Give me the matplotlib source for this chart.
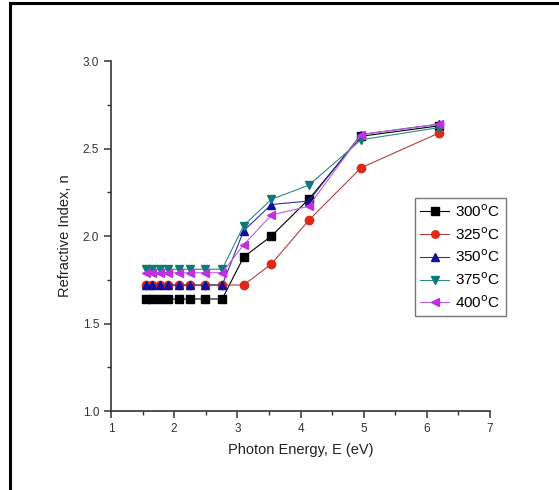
import matplotlib.pyplot as plt
from matplotlib.lines import Line2D
from matplotlib.ticker import MultipleLocator

plt.rcParams['font.family'] = ['Liberation Sans', 'DejaVu Sans']

energy = [1.55, 1.65, 1.77, 1.91, 2.07, 2.25, 2.48, 2.76, 3.10, 3.54, 4.13, 4.96, 6.20]

n_300 = [1.64, 1.64, 1.64, 1.64, 1.64, 1.64, 1.64, 1.64, 1.88, 2.00, 2.21, 2.57, 2.63]
n_325 = [1.72, 1.72, 1.72, 1.72, 1.72, 1.72, 1.72, 1.72, 1.72, 1.84, 2.09, 2.39, 2.59]
n_350 = [1.72, 1.72, 1.72, 1.72, 1.72, 1.72, 1.72, 1.72, 2.03, 2.18, 2.20, 2.58, 2.64]
n_375 = [1.81, 1.81, 1.81, 1.81, 1.81, 1.81, 1.81, 1.81, 2.06, 2.21, 2.29, 2.55, 2.62]
n_400 = [1.79, 1.79, 1.79, 1.79, 1.79, 1.79, 1.79, 1.79, 1.95, 2.12, 2.17, 2.58, 2.64]

labels = ['300$^{\\mathrm{o}}$C', '325$^{\\mathrm{o}}$C', '350$^{\\mathrm{o}}$C',
          '375$^{\\mathrm{o}}$C', '400$^{\\mathrm{o}}$C']

fig = plt.figure(figsize=(5.59, 4.9), dpi=100)
ax = fig.add_axes([0.1986, 0.1612, 0.678, 0.7143])

series = [
    (n_300, 's', '#000000', '#000000'),
    (n_325, 'o', '#e02818', '#b04040'),
    (n_350, '^', '#1010a0', '#3030a0'),
    (n_375, 'v', '#107878', '#308888'),
    (n_400, '<', '#c030e0', '#c060e0'),
]
for (vals, mk, mc, lc), lab in zip(series, labels):
    ax.plot(energy, vals, color=lc, lw=0.8, marker=mk, markersize=6,
            markerfacecolor=mc, markeredgecolor=mc, label=lab)

ax.set_xlim(1, 7)
ax.set_ylim(1.0, 3.0)
ax.xaxis.set_major_locator(MultipleLocator(1))
ax.xaxis.set_minor_locator(MultipleLocator(0.5))
ax.yaxis.set_major_locator(MultipleLocator(0.5))
ax.yaxis.set_minor_locator(MultipleLocator(0.25))
ax.yaxis.set_major_formatter(plt.FormatStrFormatter('%.1f'))
ax.spines['top'].set_visible(False)
ax.spines['right'].set_visible(False)
for s in ('left', 'bottom'):
    ax.spines[s].set_color('#333333')
    ax.spines[s].set_linewidth(1.2)
ax.tick_params(which='major', length=5, width=1.1, labelsize=8.5, color='#333333', labelcolor='#333333')
ax.tick_params(which='minor', length=3, width=1.0, color='#333333')

ax.set_xlabel('Photon Energy, E (eV)', fontsize=10.5, color='#222222', labelpad=6)
ax.set_ylabel('Refractive Index, n', fontsize=10.5, color='#222222', labelpad=8)

leg = ax.legend(loc='upper left', bbox_to_anchor=(0.802, 0.609), fontsize=11,
                frameon=True, fancybox=False, borderpad=0.35, labelspacing=0.4,
                handlelength=1.9, handletextpad=0.4, borderaxespad=0, markerscale=0.9)
leg.get_frame().set_edgecolor('#555555')
leg.get_frame().set_linewidth(1.0)

# outer frame (top and left edges visible)
fig.add_artist(Line2D([9.5 / 559, 9.5 / 559], [0, 1 - 3.5 / 490], transform=fig.transFigure,
                      color='black', lw=2.2))
fig.add_artist(Line2D([9.5 / 559, 1], [1 - 3.5 / 490, 1 - 3.5 / 490], transform=fig.transFigure,
                      color='black', lw=2.2))

fig.savefig('out.png', dpi=100)
